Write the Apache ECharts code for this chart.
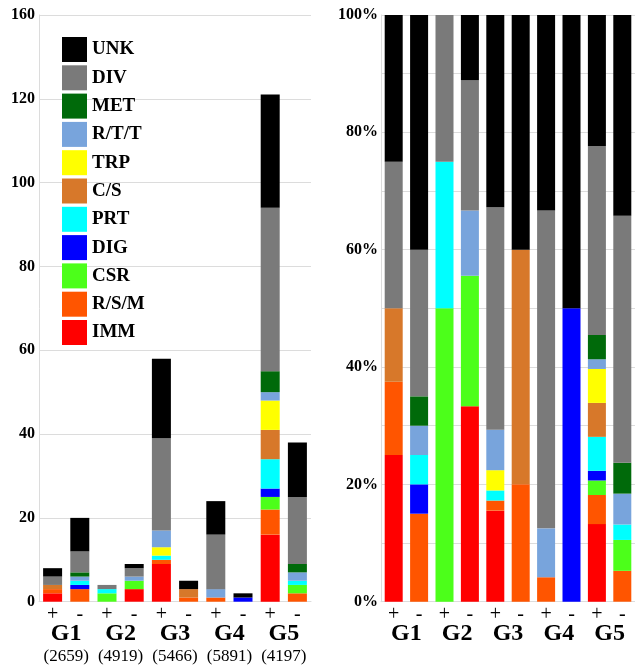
<!DOCTYPE html>
<html>
<head>
<meta charset="utf-8">
<script src="https://cdn.jsdelivr.net/npm/echarts@6/dist/echarts.min.js"></script>
<style>
html,body{margin:0;padding:0;background:#fff;}
#chart{width:635px;height:668px;}
</style>
</head>
<body>
<div id="chart"></div>
<script>
// ---- data ----
const groups = ['G1', 'G2', 'G3', 'G4', 'G5'];
const groupCounts = ['(2659)', '(4919)', '(5466)', '(5891)', '(4197)'];
const signs = ['+', '-'];
const categories = ['G1+', 'G1-', 'G2+', 'G2-', 'G3+', 'G3-', 'G4+', 'G4-', 'G5+', 'G5-'];
const countTickLabels = ['0', '20', '40', '60', '80', '100', '120', '160'];
const pctTickLabels = ['0%', '20%', '40%', '60%', '80%', '100%'];

// series, stacked from bottom (IMM) to top (UNK)
const seriesNames = ['IMM', 'R/S/M', 'CSR', 'DIG', 'PRT', 'C/S', 'TRP', 'R/T/T', 'MET', 'DIV', 'UNK'];
const IMM  = [2, 0, 0, 3, 9, 0, 0, 0, 16, 0];
const RSM  = [1, 3, 0, 0, 1, 1, 1, 0, 6, 2];
const CSR  = [0, 0, 2, 2, 0, 0, 0, 0, 3, 2];
const DIG  = [0, 1, 0, 0, 0, 0, 0, 1, 2, 0];
const PRT  = [0, 1, 1, 0, 1, 0, 0, 0, 7, 1];
const CS   = [1, 0, 0, 0, 0, 2, 0, 0, 7, 0];
const TRP  = [0, 0, 0, 0, 2, 0, 0, 0, 7, 0];
const RTT  = [0, 1, 0, 1, 4, 0, 2, 0, 2, 2];
const MET  = [0, 1, 0, 0, 0, 0, 0, 0, 5, 2];
const DIV  = [2, 5, 1, 2, 22, 0, 13, 0, 39, 16];
const UNK  = [2, 8, 0, 1, 19, 2, 8, 1, 27, 13];
const seriesValues = [IMM, RSM, CSR, DIG, PRT, CS, TRP, RTT, MET, DIV, UNK];

const colors = {
  'IMM': '#ff0000', 'R/S/M': '#ff5500', 'CSR': '#4cff1a', 'DIG': '#0000ff',
  'PRT': '#00ffff', 'C/S': '#d7782a', 'TRP': '#ffff00', 'R/T/T': '#78a4dc',
  'MET': '#006a0a', 'DIV': '#7a7a7a', 'UNK': '#000000'
};

// ---- build ----
const totals = categories.map((c, i) => seriesValues.reduce((s, arr) => s + arr[i], 0));
const serif = 'Liberation Serif';
const gridColor = '#dcdcdc';

const series = [];
seriesNames.forEach((name, k) => {
  series.push({
    name, type: 'bar', stack: 'cnt', xAxisIndex: 0, yAxisIndex: 0,
    barWidth: 19, itemStyle: { color: colors[name] },
    data: seriesValues[k]
  });
});
seriesNames.forEach((name, k) => {
  series.push({
    name, type: 'bar', stack: 'pct', xAxisIndex: 2, yAxisIndex: 1,
    barWidth: 18, itemStyle: { color: colors[name] },
    data: seriesValues[k].map((v, i) => v / totals[i] * 100)
  });
});

const signAxis = (gi) => ({
  type: 'category', gridIndex: gi, data: categories,
  axisLine: { show: true, lineStyle: { color: gridColor } },
  axisTick: { show: false },
  axisLabel: {
    margin: 3, fontFamily: serif, fontSize: 20, color: '#000',
    formatter: (v) => v.slice(-1)
  }
});

const chart = echarts.init(document.getElementById('chart'), null, { renderer: 'canvas' });
chart.setOption({
  animation: false,
  backgroundColor: '#fff',
  grid: [
    { left: 39, right: 324, top: 15, bottom: 66.3 },
    { left: 381, right: -6, top: 15, bottom: 66.3 }
  ],
  legend: {
    data: seriesNames.slice().reverse(),
    orient: 'vertical', left: 62, top: 37, padding: 0,
    icon: 'rect', itemWidth: 25, itemHeight: 25, itemGap: 3.3,
    textStyle: { fontFamily: serif, fontWeight: 'bold', fontSize: 19, color: '#000', padding: [0, 0, 0, 0] },
    selectedMode: false
  },
  xAxis: [
    signAxis(0),
    {
      type: 'category', gridIndex: 0, data: groups, position: 'bottom',
      axisLine: { show: false }, axisTick: { show: false },
      axisLabel: {
        margin: 20, interval: 0,
        formatter: (v, i) => '{g|' + v + '}\n{n|' + groupCounts[i] + '}',
        rich: {
          g: { fontFamily: serif, fontWeight: 'bold', fontSize: 24, color: '#000', lineHeight: 24 },
          n: { fontFamily: serif, fontSize: 17, color: '#000', lineHeight: 21 }
        }
      }
    },
    signAxis(1),
    {
      type: 'category', gridIndex: 1, data: groups, position: 'bottom',
      axisLine: { show: false }, axisTick: { show: false },
      axisLabel: {
        margin: 20, interval: 0,
        formatter: (v) => '{g|' + v + '}',
        rich: { g: { fontFamily: serif, fontWeight: 'bold', fontSize: 24, color: '#000', lineHeight: 24 } }
      }
    }
  ],
  yAxis: [
    {
      type: 'value', gridIndex: 0, min: 0, max: 140, interval: 20,
      axisLine: { show: true, lineStyle: { color: gridColor } },
      axisTick: { show: false },
      splitLine: { lineStyle: { color: gridColor } },
      axisLabel: {
        margin: 4, fontFamily: serif, fontWeight: 'bold', fontSize: 16, color: '#000',
        formatter: (v) => countTickLabels[Math.round(v / 20)]
      }
    },
    {
      type: 'value', gridIndex: 1, min: 0, max: 100, interval: 10,
      axisLine: { show: true, lineStyle: { color: gridColor } },
      axisTick: { show: false },
      splitLine: { lineStyle: { color: gridColor } },
      axisLabel: {
        margin: 3, fontFamily: serif, fontWeight: 'bold', fontSize: 16, color: '#000',
        formatter: (v) => (Math.round(v) % 20 === 0 ? pctTickLabels[Math.round(v) / 20] : '')
      }
    }
  ],
  series
});
</script>
</body>
</html>
